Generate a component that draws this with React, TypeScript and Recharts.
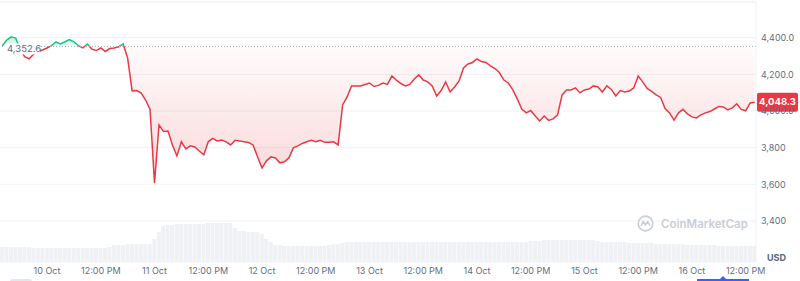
import React from 'react';
import {
    ComposedChart,
    Area,
    Bar,
    XAxis,
    YAxis,
    CartesianGrid,
    ReferenceLine,
} from 'recharts';

// ─── Data ─────────────────────────────────────────────────────────────────────

// hours counted from 10 Oct 00:00, one point per hour
const START_HOUR = -10;

const prices = [
    4355, 4387, 4405, 4398, 4340, 4296, 4285, 4310, 4325, 4333,
    4344, 4357, 4377, 4366, 4378, 4390, 4377, 4357, 4345, 4366,
    4338, 4330, 4344, 4325, 4341, 4344, 4351, 4366, 4289, 4110,
    4112, 4099, 4060, 4010, 3606, 3924, 3888, 3891, 3815, 3755,
    3832, 3793, 3810, 3804, 3782, 3761, 3832, 3851, 3837, 3842,
    3832, 3815, 3840, 3837, 3832, 3828, 3815, 3750, 3690, 3728,
    3750, 3744, 3717, 3723, 3744, 3799, 3810, 3823, 3832, 3840,
    3832, 3840, 3829, 3829, 3832, 3815, 4033, 4077, 4137, 4137,
    4137, 4145, 4153, 4134, 4140, 4153, 4145, 4191, 4169, 4150,
    4137, 4145, 4175, 4197, 4169, 4159, 4137, 4082, 4112, 4159,
    4104, 4131, 4164, 4235, 4257, 4265, 4284, 4270, 4265, 4246,
    4232, 4210, 4169, 4153, 4115, 4066, 4011, 3990, 4003, 3973,
    3946, 3973, 3949, 3957, 3979, 4088, 4115, 4115, 4126, 4099,
    4115, 4120, 4137, 4131, 4104, 4137, 4118, 4082, 4112, 4104,
    4109, 4126, 4191, 4159, 4123, 4107, 4088, 4074, 4014, 3990,
    3950, 3990, 4009, 3984, 3968, 3962, 3979, 3990, 3997, 4011,
    4025, 4022, 4006, 4017, 4039, 4009, 4001, 4044, 4048.3,
];

// volume, billions USD
const volumes = [
    1.5, 1.5, 1.5, 1.5, 1.5, 1.5, 1.5, 1.4, 1.4, 1.4,
    1.4, 1.4, 1.4, 1.4, 1.4, 1.4, 1.4, 1.4, 1.4, 1.4,
    1.4, 1.4, 1.4, 1.4, 1.5, 1.7, 1.7, 1.7, 1.8, 1.8,
    1.8, 1.8, 1.8, 1.8, 2.3, 3.0, 3.6, 3.7, 3.7, 3.8,
    3.8, 3.8, 3.8, 3.8, 3.8, 3.8, 3.9, 3.9, 3.9, 3.9,
    3.9, 3.9, 3.4, 3.1, 3.1, 3.0, 3.0, 3.0, 2.8, 2.3,
    2.0, 1.7, 1.7, 1.6, 1.6, 1.6, 1.6, 1.6, 1.6, 1.6,
    1.6, 1.6, 1.6, 1.7, 1.8, 1.8, 1.9, 2.0, 2.0, 2.0,
    2.0, 2.0, 2.0, 2.0, 2.0, 2.0, 2.0, 2.0, 2.0, 2.0,
    2.0, 2.0, 2.0, 2.0, 2.0, 2.0, 2.0, 2.0, 2.0, 2.0,
    2.0, 2.0, 2.0, 2.0, 2.0, 2.0, 2.0, 2.0, 2.0, 2.0,
    2.0, 2.0, 2.0, 2.0, 2.0, 2.0, 2.0, 2.0, 2.1, 2.1,
    2.1, 2.2, 2.2, 2.2, 2.2, 2.2, 2.2, 2.2, 2.2, 2.2,
    2.2, 2.2, 2.2, 2.1, 2.0, 2.0, 2.0, 2.0, 2.0, 2.0,
    1.9, 1.9, 1.9, 1.9, 1.9, 1.9, 1.8, 1.8, 1.8, 1.8,
    1.8, 1.8, 1.8, 1.7, 1.7, 1.7, 1.7, 1.7, 1.7, 1.7,
    1.6, 1.6, 1.6, 1.6, 1.6, 1.6, 1.6, 1.6, 1.6,
];

const openPrice = 4352.6;
const priceTicks = [3400, 3600, 3800, 4000, 4200, 4400];
const timeTicks = [0, 12, 24, 36, 48, 60, 72, 84, 96, 108, 120, 132, 144, 156];
const dayLabels = ['10 Oct', '11 Oct', '12 Oct', '13 Oct', '14 Oct', '15 Oct', '16 Oct'];

const PRICE_DOMAIN: [number, number] = [3176, 4595];
const TIME_DOMAIN: [number, number] = [-10.5, 158.3];

const RED = '#ea3943';
const GREEN = '#16c784';
const AXIS_TEXT = '#616e85';

const data = prices.map((price, i) => ({
    t: START_HOUR + i,
    price,
    volume: volumes[i],
}));

const lastPrice = prices[prices.length - 1];
const maxP = Math.max(...prices);
const minP = Math.min(...prices);
const splitOffset = (maxP - openPrice) / (maxP - minP);

// ─── Helpers ──────────────────────────────────────────────────────────────────

function formatPrice(v: number): string {
    if (v >= 4000) {
        return v.toLocaleString('en-US', { minimumFractionDigits: 1, maximumFractionDigits: 1 });
    }
    return v.toLocaleString('en-US');
}

function formatTime(t: number): string {
    if (t % 24 === 0) return dayLabels[t / 24];
    return '12:00 PM';
}

// ─── Labels ───────────────────────────────────────────────────────────────────

const OpenTag: React.FC<any> = ({ viewBox }) => {
    if (!viewBox) return null;
    const { x, y } = viewBox;
    return (
        <g>
            <rect x={x + 5} y={y - 3} width={35} height={11} fill="#fff" />
            <text
                x={x + 7}
                y={y + 2}
                dy="0.35em"
                fontSize={9.5}
                fill="#58667e"
                fontFamily="Inter"
            >
                {formatPrice(openPrice)}
            </text>
        </g>
    );
};

const PriceTag: React.FC<any> = ({ viewBox }) => {
    if (!viewBox) return null;
    const { x, y, width } = viewBox;
    const left = x + width + 1;
    return (
        <g>
            <rect x={left} y={y - 9.5} width={41} height={19} rx={2} fill={RED} />
            <text
                x={left + 20.5}
                y={y}
                dy="0.35em"
                textAnchor="middle"
                fontSize={9.5}
                fontWeight={700}
                fill="#fff"
                fontFamily="Inter"
            >
                {lastPrice.toLocaleString('en-US', { minimumFractionDigits: 1 })}
            </text>
        </g>
    );
};

// ─── Component ────────────────────────────────────────────────────────────────

export default function App() {
    return (
        <div
            style={{
                position: 'absolute',
                left: 0,
                top: 0,
                width: 800,
                height: 281,
                background: '#fff',
                fontFamily: 'Inter, sans-serif',
                overflow: 'hidden',
            }}
        >
            <ComposedChart
                width={800}
                height={281}
                data={data}
                margin={{ top: 2, right: 0, bottom: 0, left: 0 }}
            >
                <defs>
                    <linearGradient id="priceStroke" x1="0" y1="0" x2="0" y2="1">
                        <stop offset={0} stopColor={GREEN} />
                        <stop offset={splitOffset} stopColor={GREEN} />
                        <stop offset={splitOffset} stopColor={RED} />
                        <stop offset={1} stopColor={RED} />
                    </linearGradient>
                    <linearGradient id="priceFill" x1="0" y1="0" x2="0" y2="1">
                        <stop offset={0} stopColor={GREEN} stopOpacity={0.25} />
                        <stop offset={splitOffset} stopColor={GREEN} stopOpacity={0.06} />
                        <stop offset={splitOffset} stopColor={RED} stopOpacity={0.02} />
                        <stop offset={1} stopColor={RED} stopOpacity={0.2} />
                    </linearGradient>
                </defs>
                <CartesianGrid
                    yAxisId="price"
                    horizontal
                    vertical={false}
                    stroke="#eff2f5"
                />
                <XAxis
                    dataKey="t"
                    type="number"
                    domain={TIME_DOMAIN}
                    ticks={timeTicks}
                    interval={0}
                    tickFormatter={formatTime}
                    axisLine={false}
                    tickLine={false}
                    tickSize={4}
                    height={19}
                    tick={{ fill: AXIS_TEXT, fontSize: 9 }}
                    allowDataOverflow
                />
                <YAxis
                    yAxisId="price"
                    orientation="right"
                    domain={PRICE_DOMAIN}
                    ticks={priceTicks}
                    interval={0}
                    tickFormatter={formatPrice}
                    axisLine={{ stroke: '#eff2f5' }}
                    tickLine={false}
                    tickSize={3}
                    width={44}
                    tick={{ fill: AXIS_TEXT, fontSize: 9, textAnchor: 'start' }}
                    allowDataOverflow
                />
                <YAxis yAxisId="volume" hide domain={[0, 26]} />
                <Bar
                    yAxisId="volume"
                    dataKey="volume"
                    fill="#eff1f4"
                    barSize={4}
                    isAnimationActive={false}
                />
                <ReferenceLine yAxisId="price" y={PRICE_DOMAIN[1]} stroke="#eff2f5" />
                <Area
                    yAxisId="price"
                    type="linear"
                    dataKey="price"
                    baseValue={openPrice}
                    stroke="url(#priceStroke)"
                    strokeWidth={1.5}
                    fill="url(#priceFill)"
                    fillOpacity={1}
                    dot={false}
                    activeDot={false}
                    isAnimationActive={false}
                />
                <ReferenceLine
                    yAxisId="price"
                    y={openPrice}
                    stroke="#a6b0c3"
                    strokeDasharray="1 2"
                    label={<OpenTag />}
                />
                <ReferenceLine
                    yAxisId="price"
                    y={lastPrice}
                    stroke="none"
                    ifOverflow="visible"
                    label={<PriceTag />}
                />
            </ComposedChart>

            {/* currency */}
            <div
                style={{
                    position: 'absolute',
                    left: 767,
                    top: 252,
                    fontSize: 9,
                    fontWeight: 700,
                    color: '#58667e',
                }}
            >
                USD
            </div>

            {/* watermark */}
            <div
                style={{
                    position: 'absolute',
                    left: 637,
                    top: 215,
                    display: 'flex',
                    alignItems: 'center',
                    gap: 7,
                    color: '#c9ced6',
                    fontSize: 11.5,
                    fontWeight: 600,
                }}
            >
                <svg width={17} height={17} viewBox="0 0 17 17">
                    <circle cx={8.5} cy={8.5} r={7.3} fill="none" stroke="#c9ced6" strokeWidth={1.7} />
                    <path
                        d="M4 11 L6.2 6.5 L8.5 10 L10.8 6.5 L13 11"
                        fill="none"
                        stroke="#c9ced6"
                        strokeWidth={1.6}
                        strokeLinejoin="round"
                    />
                </svg>
                CoinMarketCap
            </div>

            {/* range slider remnants at the bottom edge */}
            <div
                style={{
                    position: 'absolute',
                    left: 10,
                    top: 279,
                    width: 22,
                    height: 5,
                    borderRadius: 3,
                    background: '#e3e6eb',
                }}
            />
            <div
                style={{
                    position: 'absolute',
                    left: 697,
                    top: 279,
                    width: 52,
                    height: 3,
                    background: '#3861fb',
                }}
            />
            <div
                style={{
                    position: 'absolute',
                    left: 720,
                    top: 276,
                    width: 0,
                    height: 0,
                    borderLeft: '3px solid transparent',
                    borderRight: '3px solid transparent',
                    borderBottom: '3px solid #3861fb',
                }}
            />
        </div>
    );
}
